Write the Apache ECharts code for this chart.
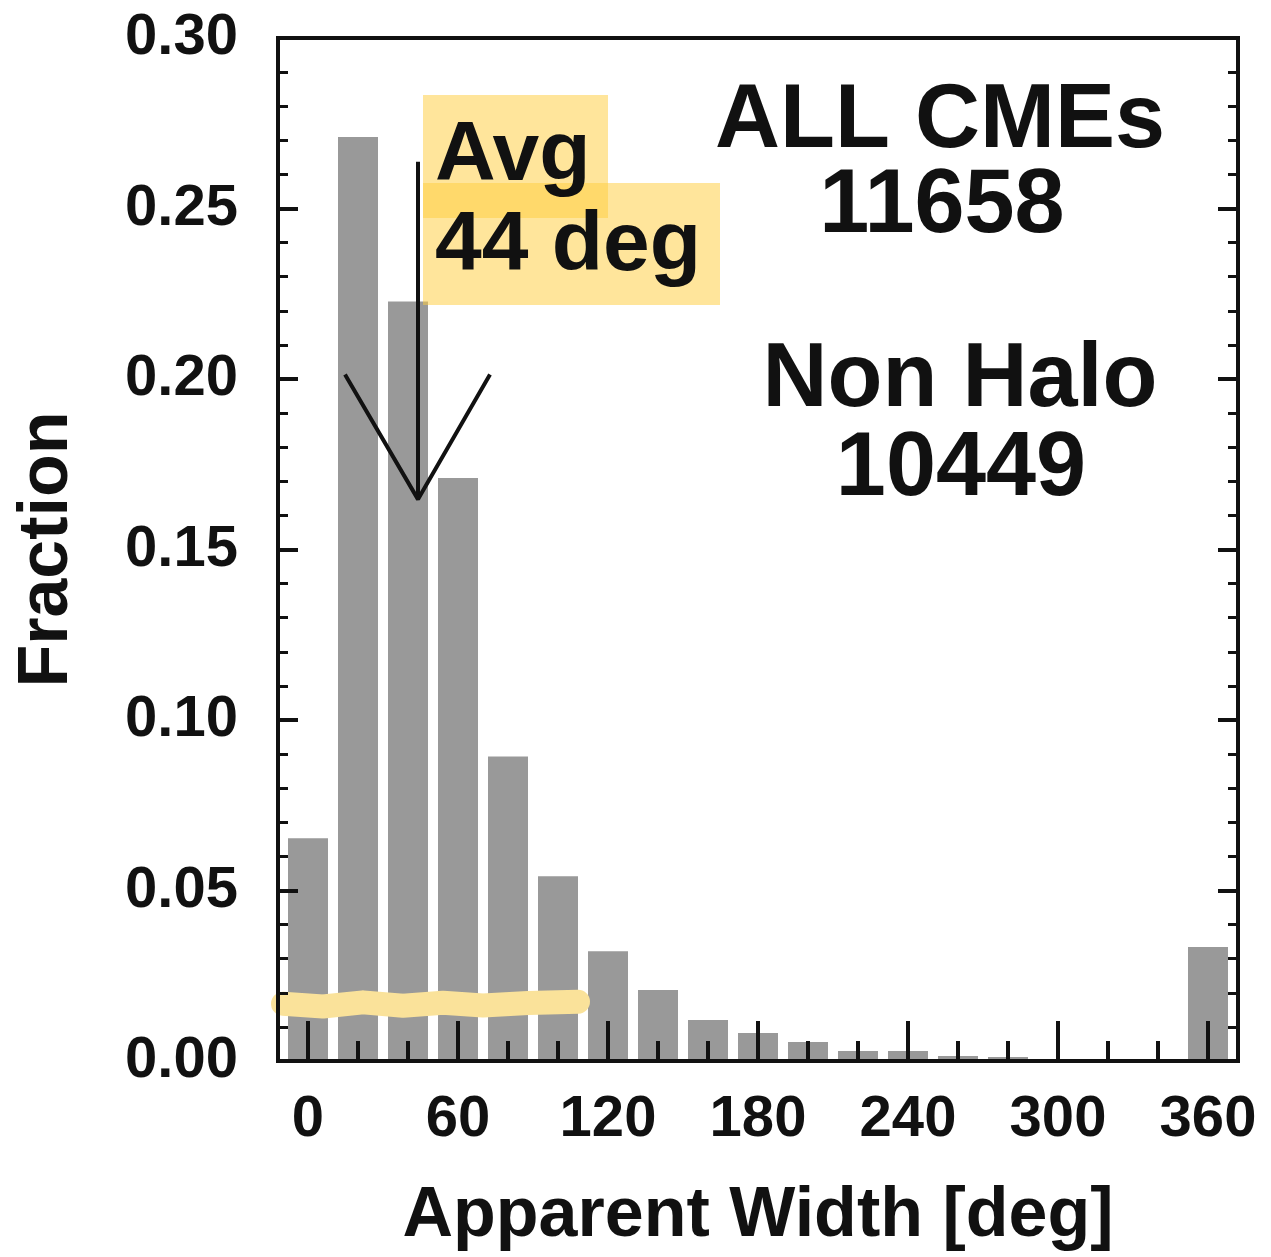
<!DOCTYPE html>
<html>
<head>
<meta charset="utf-8">
<script src="https://cdn.jsdelivr.net/npm/echarts@6/dist/echarts.min.js"></script>
<style>
  html, body { margin: 0; padding: 0; background: #fff; }
  #main { width: 1271px; height: 1257px; }
</style>
</head>
<body>
<div id="main"></div>
<script>
  // histogram bins (deg) and fraction of CMEs in each
  var binCenters = [0, 20, 40, 60, 80, 100, 120, 140, 160, 180, 200, 220, 240, 260, 280, 300, 320, 340, 360];
  var fractions = [0.0653, 0.2710, 0.2227, 0.1710, 0.0893, 0.0542, 0.0322, 0.0208, 0.0120, 0.0082,
                   0.0056, 0.0029, 0.0029, 0.0015, 0.0012, 0.0004, 0, 0, 0.0334];

  var majorTicksX = [0, 60, 120, 180, 240, 300, 360];
  var minorTicksX = [20, 40, 80, 100, 140, 160, 200, 220, 260, 280, 320, 340];

  // average width arrow (deg, fraction)
  var arrowShaft = [[44, 0.2637], [44, 0.1647]];
  var arrowHead = [[14.8, 0.2013], [44, 0.1647], [72.8, 0.2013]];

  // yellow marker scribble near the bottom
  var scribble = [[-10, 0.0168], [6, 0.0160], [22, 0.0172], [38, 0.0162], [54, 0.0171], [70, 0.0163], [88, 0.0170], [108, 0.0174]];

  var FONT = '"Liberation Sans", Arial, Helvetica, sans-serif';
  var INK = '#111';

  var myChart = echarts.init(document.getElementById('main'));

  function yAxisBase(pos, showLabel) {
    return {
      type: 'value',
      position: pos,
      min: 0,
      max: 0.3,
      interval: 0.05,
      z: 10,
      axisLine: { show: true, onZero: false, lineStyle: { color: INK, width: 4 } },
      axisTick: { show: true, inside: true, length: 20, lineStyle: { color: INK, width: 4 } },
      minorTick: { show: true, splitNumber: 5, length: 10, lineStyle: { color: INK, width: 3 } },
      splitLine: { show: false },
      minorSplitLine: { show: false },
      axisLabel: {
        show: showLabel,
        margin: 40,
        color: INK,
        fontFamily: FONT,
        fontWeight: 'bold',
        fontSize: 58,
        formatter: function (v) { return v.toFixed(2); }
      }
    };
  }

  var yLeft = yAxisBase('left', true);
  yLeft.name = 'Fraction';
  yLeft.nameLocation = 'middle';
  yLeft.nameGap = 195;
  yLeft.nameTextStyle = { color: INK, fontFamily: FONT, fontWeight: 'bold', fontSize: 70 };

  var option = {
    animation: false,
    backgroundColor: '#fff',
    grid: {
      left: 278, right: 33, top: 38, bottom: 195,
      show: true, borderColor: INK, borderWidth: 4, backgroundColor: 'transparent'
    },
    xAxis: [
      {
        type: 'value',
        position: 'bottom',
        min: -12,
        max: 372,
        z: 10,
        axisLine: { show: true, onZero: false, lineStyle: { color: INK, width: 4 } },
        axisTick: { show: true, inside: true, length: 40, customValues: majorTicksX, lineStyle: { color: INK, width: 4 } },
        splitLine: { show: false },
        axisLabel: {
          customValues: majorTicksX,
          margin: 30,
          color: INK,
          fontFamily: FONT,
          fontWeight: 'bold',
          fontSize: 58
        },
        name: 'Apparent Width [deg]',
        nameLocation: 'middle',
        nameGap: 121,
        nameTextStyle: { color: INK, fontFamily: FONT, fontWeight: 'bold', fontSize: 70 }
      },
      {
        type: 'value',
        position: 'bottom',
        min: -12,
        max: 372,
        z: 10,
        axisLine: { show: false, onZero: false },
        axisTick: { show: true, inside: true, length: 20, customValues: minorTicksX, lineStyle: { color: INK, width: 4 } },
        axisLabel: { show: false },
        splitLine: { show: false }
      }
    ],
    yAxis: [yLeft, yAxisBase('right', false)],
    graphic: [
      { type: 'rect', z: 50, shape: { x: 423, y: 95, width: 185, height: 123 }, style: { fill: 'rgba(255,205,63,0.52)' } },
      { type: 'rect', z: 50, shape: { x: 423, y: 183, width: 297, height: 122 }, style: { fill: 'rgba(255,205,63,0.52)' } },
      { type: 'text', z: 60, x: 435, y: 157, style: { text: 'Avg', fill: INK, font: 'bold 84px ' + FONT, align: 'left', verticalAlign: 'middle' } },
      { type: 'text', z: 60, x: 435, y: 247, style: { text: '44 deg', fill: INK, font: 'bold 84px ' + FONT, align: 'left', verticalAlign: 'middle' } },
      { type: 'text', z: 60, x: 940, y: 122, style: { text: 'ALL CMEs', fill: INK, font: 'bold 90px ' + FONT, align: 'center', verticalAlign: 'middle' } },
      { type: 'text', z: 60, x: 942, y: 207, style: { text: '11658', fill: INK, font: 'bold 90px ' + FONT, align: 'center', verticalAlign: 'middle' } },
      { type: 'text', z: 60, x: 960, y: 381, style: { text: 'Non Halo', fill: INK, font: 'bold 90px ' + FONT, align: 'center', verticalAlign: 'middle' } },
      { type: 'text', z: 60, x: 961, y: 470, style: { text: '10449', fill: INK, font: 'bold 90px ' + FONT, align: 'center', verticalAlign: 'middle' } }
    ],
    series: [
      {
        name: 'Fraction',
        type: 'bar',
        xAxisIndex: 0,
        yAxisIndex: 0,
        barWidth: 40,
        itemStyle: { color: '#999999' },
        data: binCenters.map(function (c, i) { return [c, fractions[i]]; })
      },
      {
        type: 'line',
        xAxisIndex: 0,
        yAxisIndex: 0,
        z: 5,
        silent: true,
        symbol: 'none',
        lineStyle: { color: '#FAE29A', width: 24, cap: 'round', join: 'round' },
        data: scribble
      },
      {
        type: 'line',
        xAxisIndex: 0,
        yAxisIndex: 0,
        z: 6,
        silent: true,
        symbol: 'none',
        lineStyle: { color: INK, width: 4 },
        data: arrowShaft
      },
      {
        type: 'line',
        xAxisIndex: 0,
        yAxisIndex: 0,
        z: 6,
        silent: true,
        symbol: 'none',
        lineStyle: { color: INK, width: 4 },
        data: arrowHead
      }
    ]
  };

  myChart.setOption(option);
</script>
</body>
</html>
